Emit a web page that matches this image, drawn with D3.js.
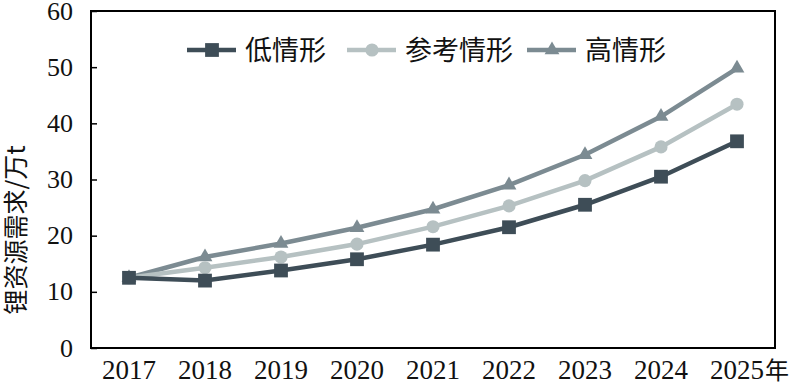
<!DOCTYPE html>
<html>
<head>
<meta charset="utf-8">
<script src="https://cdn.jsdelivr.net/npm/d3@7"></script>
<style>
  body { margin: 0; background: #fff; }
  svg { display: block; }
</style>
</head>
<body>
<svg id="chart"></svg>
<script>
// Data
var years = ["2017", "2018", "2019", "2020", "2021", "2022", "2023", "2024", "2025"];
var lowValues = [12.5, 12.0, 13.8, 15.8, 18.4, 21.5, 25.5, 30.5, 36.8];
var refValues = [12.5, 14.3, 16.2, 18.5, 21.6, 25.3, 29.8, 35.8, 43.4];
var highValues = [12.5, 16.2, 18.6, 21.4, 24.7, 29.0, 34.4, 41.2, 49.8];
var seriesNames = ["低情形", "参考情形", "高情形"];
var yTicks = [0, 10, 20, 30, 40, 50, 60];

var width = 800,
    height = 385,
    plotLeft = 91, plotRight = 775, plotTop = 11, plotBottom = 348;

var serif = "'Liberation Serif', 'Times New Roman', serif";
var cjk = "'Noto Sans CJK SC', sans-serif";

var series = [
  { name: seriesNames[0], values: lowValues, color: "#3e4d57", marker: "square" },
  { name: seriesNames[1], values: refValues, color: "#b6c1c2", marker: "circle" },
  { name: seriesNames[2], values: highValues, color: "#7c8b92", marker: "triangle" }
];

var svg = d3.select("#chart")
  .attr("width", width)
  .attr("height", height);

var x = d3.scalePoint()
  .domain(years)
  .range([plotLeft, plotRight])
  .padding(0.5);

var y = d3.scaleLinear()
  .domain([0, 60])
  .range([plotBottom, plotTop]);

// Axes (ticks point inward)
var yAxis = svg.append("g")
  .attr("transform", "translate(" + plotLeft + ",0)")
  .call(d3.axisRight(y).tickValues(yTicks).tickSize(6).tickFormat(""));
yAxis.select(".domain").remove();
yAxis.selectAll("line").attr("stroke", "#000").attr("stroke-width", 1.5);

svg.selectAll(".ylab")
  .data(yTicks)
  .enter().append("text")
  .attr("class", "ylab")
  .attr("x", plotLeft - 18)
  .attr("y", function(d) { return y(d); })
  .attr("dy", "0.33em")
  .attr("text-anchor", "end")
  .style("font-family", serif)
  .style("font-size", "26px")
  .attr("fill", "#111")
  .text(function(d) { return d; });

svg.selectAll(".xlab")
  .data(years)
  .enter().append("text")
  .attr("class", "xlab")
  .attr("x", function(d) { return x(d); })
  .attr("y", plotBottom + 31)
  .attr("text-anchor", "middle")
  .style("font-family", serif)
  .style("font-size", "27px")
  .attr("fill", "#111")
  .text(function(d) { return d; });

// unit after last year
svg.append("text")
  .attr("x", x(years[years.length - 1]) + 28)
  .attr("y", plotBottom + 31)
  .style("font-family", cjk)
  .style("font-size", "24px")
  .attr("fill", "#111")
  .text("年");

// Frame
svg.append("rect")
  .attr("x", plotLeft)
  .attr("y", plotTop)
  .attr("width", plotRight - plotLeft)
  .attr("height", plotBottom - plotTop)
  .attr("fill", "none")
  .attr("stroke", "#000")
  .attr("stroke-width", 2);

// Y title
svg.append("text")
  .attr("transform", "translate(25,230)rotate(-90)")
  .attr("text-anchor", "middle")
  .style("font-family", cjk)
  .style("font-size", "25px")
  .attr("fill", "#111")
  .text("锂资源需求/万t");

var line = d3.line()
  .x(function(d, i) { return x(years[i]); })
  .y(function(d) { return y(d); });

var symbolType = { square: d3.symbolSquare, circle: d3.symbolCircle, triangle: d3.symbolTriangle };
var symbolSize = { square: 190, circle: 135, triangle: 95 };

// draw high first so low sits on top
series.slice().reverse().forEach(function(s) {
  svg.append("path")
    .attr("d", line(s.values))
    .attr("fill", "none")
    .attr("stroke", s.color)
    .attr("stroke-width", 4.5);

  svg.selectAll(".m-" + s.marker)
    .data(s.values)
    .enter().append("path")
    .attr("class", "m-" + s.marker)
    .attr("transform", function(d, i) { return "translate(" + x(years[i]) + "," + y(d) + ")"; })
    .attr("d", d3.symbol().type(symbolType[s.marker]).size(symbolSize[s.marker]))
    .attr("fill", s.color);
});

// Legend
var legendX = [187, 347, 527];
var legend = svg.selectAll(".legend")
  .data(series)
  .enter().append("g")
  .attr("class", "legend")
  .attr("transform", function(d, i) { return "translate(" + legendX[i] + ",50)"; });

legend.append("line")
  .attr("x1", 0).attr("x2", 49)
  .attr("stroke", function(d) { return d.color; })
  .attr("stroke-width", 4.5);

legend.append("path")
  .attr("transform", "translate(25,0)")
  .attr("d", function(d) { return d3.symbol().type(symbolType[d.marker]).size(symbolSize[d.marker])(); })
  .attr("fill", function(d) { return d.color; });

legend.append("text")
  .attr("x", 58)
  .attr("dy", "0.36em")
  .style("font-family", cjk)
  .style("font-size", "27px")
  .attr("fill", "#111")
  .text(function(d) { return d.name; });
</script>
</body>
</html>
